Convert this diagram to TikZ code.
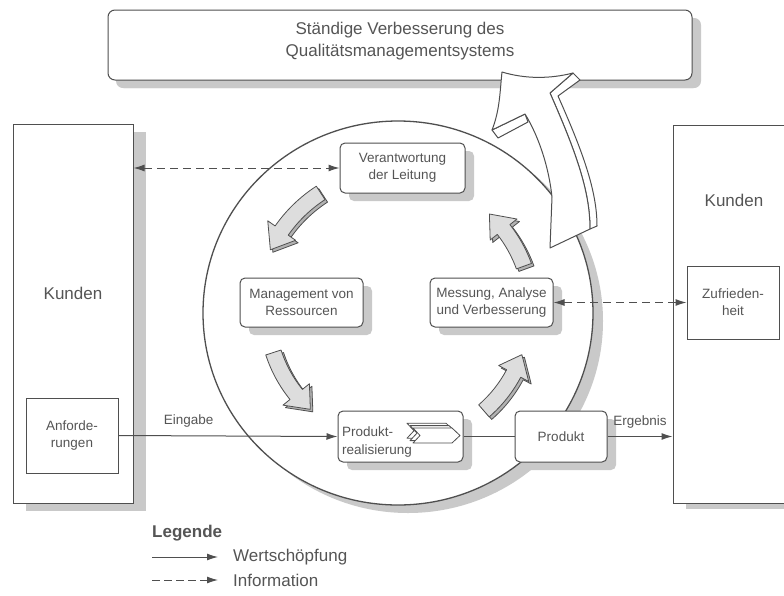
\documentclass[tikz,border=0pt]{standalone}
\usepackage{fontspec}
\setmainfont{Liberation Sans}
\usetikzlibrary{arrows.meta,shadows}
\definecolor{ln}{HTML}{4F4F4F}
\definecolor{tx}{HTML}{555555}
\definecolor{sh}{HTML}{C9C9C9}
\definecolor{ag}{HTML}{DDDDDD}
\newcommand\blkarr[3]{%
  \pgfmathsetmacro\ra{#3+8}\pgfmathsetmacro\rb{#3-8}%
  \pgfmathsetmacro\rc{#3+17}\pgfmathsetmacro\rd{#3-17}%
  \pgfmathsetmacro\ah{#2+9}%
  \foreach \sx/\col in {2.5/gray!60, 0/ag}{%
  \filldraw[ln, fill=\col, line width=0.8pt, line join=round, shift={(\sx,\sx)}]
    ([shift={(398,312)}]#1:\ra) arc[start angle=#1, end angle=\ah, radius=\ra]
    -- ([shift={(398,312)}]\ah:\rc) -- ([shift={(398,312)}]#2:#3)
    -- ([shift={(398,312)}]\ah:\rd) -- ([shift={(398,312)}]\ah:\rb)
    arc[start angle=\ah, end angle=#1, radius=\rb] -- cycle;}%
}
\begin{document}
\begin{tikzpicture}[x=1pt,y=-1pt,
  shd/.style 2 args={drop shadow={shadow xshift=#1pt, shadow yshift=-#2pt, fill=sh, draw=none, opacity=1}},
  box/.style={draw=ln, line width=1pt, fill=white, rounded corners=5pt, align=center, text=tx,
    font=\fontsize{13.5}{17}\selectfont, inner sep=0pt, shd={9}{8}},
  plain/.style={draw=ln, line width=1pt, fill=white, inner sep=0pt},
  lbl/.style={text=tx, inner sep=0pt, align=center, font=\fontsize{13.5}{17}\selectfont},
  big/.style={text=tx, inner sep=0pt, font=\fontsize{17}{21}\selectfont},
  arr/.style={draw=ln, line width=1pt, -{Latex[length=11pt,width=7pt]}},
  darr/.style={draw=ln, line width=1pt, dash pattern=on 8pt off 5pt, {Latex[length=11pt,width=7pt]}-{Latex[length=11pt,width=7pt]}},
  larr/.style={draw=ln, line width=1pt, -{Latex[length=11pt,width=7pt]}}
]
\useasboundingbox (0,0) rectangle (784,595);
\clip (0,0) rectangle (784,595);
\fill[white] (0,0) rectangle (784,595);

% top box
\node[box, rounded corners=7pt, minimum width=584pt, minimum height=70pt, shd={8}{8}] (top) at (400,45) {};
\node[big, align=center, font=\fontsize{17}{22}\selectfont] (topt) at (400,41) {Ständige Verbesserung des\\Qualitätsmanagementsystems};

% circle
\fill[sh] (408,321) ellipse [x radius=195, y radius=192];
\fill[white] (398,313) ellipse [x radius=195, y radius=192];
\draw[ln, line width=1.3pt] (398,313) ellipse [x radius=195, y radius=192];

% customers
\node[plain, minimum width=120pt, minimum height=379pt, shd={13}{8}] (kl) at (73,313.5) {};
\node[big] (klt) at (73,293) {Kunden};
\node[plain, minimum width=122pt, minimum height=378pt, shd={13}{6}] (kr) at (734,314) {};
\node[big] (krt) at (734,200) {Kunden};
\node[plain, minimum width=92pt, minimum height=75pt] (anf) at (72,435.5) {};
\node[lbl] (anft) at (72,435.5) {Anforde-\\rungen};
\node[plain, minimum width=92pt, minimum height=73pt] (zuf) at (733,302.5) {};
\node[lbl] (zuft) at (733,302.5) {Zufrieden-\\heit};

% process boxes
\node[box, minimum width=125pt, minimum height=50pt] (ver) at (402.5,168) {Verantwortung\\der Leitung};
\node[box, minimum width=123pt, minimum height=49pt] (man) at (301.5,302.5) {Management von\\Ressourcen};
\node[box, minimum width=123pt, minimum height=49pt] (mes) at (491.5,302.5) {Messung, Analyse\\und Verbesserung};
\node[box, minimum width=125pt, minimum height=51pt] (prod) at (400.5,436.5) {};
\node[lbl, anchor=west, align=left, font=\fontsize{13.5}{18.5}\selectfont] (prodt) at (342,442) {Produkt-\\realisierung};
\foreach \dx in {-6,-3,0}{
  \filldraw[ln, fill=white, line width=0.8pt, line join=round, shift={(\dx,0.8*\dx)}]
    (413,428) -- (452,428) -- (460,435.5) -- (452,443) -- (413,443) -- (420,435.5) -- cycle;}
\node[box, minimum width=92pt, minimum height=51pt] (pr) at (561,436.5) {Produkt};

% gray cycle arrows
\blkarr{237}{206}{142}
\blkarr{162}{132}{131}
\blkarr{49}{19}{131}
\blkarr{340}{313}{134}

% big white arrow
\filldraw[ln, fill=white, line width=1pt, line join=round]
  (573,73) -- (580,80) -- (558,96) .. controls (582,150) and (597,190) .. (597,226)
  -- (590,229) .. controls (590,190) and (575,150) .. (550,93) -- cycle;
\filldraw[ln, fill=white, line width=1pt, line join=round]
  (492,130) -- (498,138) -- (528,122) -- (525,114) -- cycle;
\filldraw[ln, fill=white, line width=1pt, line join=round]
  (502,72) .. controls (525,79) and (550,79) .. (573,73)
  -- (550,93)
  .. controls (575,150) and (590,190) .. (590,229)
  -- (550,248) -- (552,197)
  .. controls (548,160) and (535,130) .. (525,114)
  -- (492,130) .. controls (500,110) and (500,90) .. (502,72) -- cycle;

% connectors
\draw[arr] (anf.east) -- (prod.west) node[lbl, pos=0.32, above=8pt] (ein) {Eingabe};
\draw[ln, line width=1pt] (prod.east) -- (pr.west);
\draw[arr] (pr.east) -- (pr.east -| kr.west) node[lbl, midway, above=8pt] (erg) {Ergebnis};
\draw[darr] (kl.east |- ver.west) -- (ver.west);
\draw[darr] (mes.east) -- (zuf.west);

% legend
\node[text=tx, inner sep=0pt, anchor=west, font=\bfseries\fontsize{17}{20}\selectfont] (leg) at (152,533) {Legende};
\coordinate (l1a) at (152,557); \coordinate (l1b) at (218,557);
\coordinate (l2a) at (152,580); \coordinate (l2b) at (218,580);
\draw[larr] (l1a) -- (l1b);
\draw[larr, dash pattern=on 8pt off 4pt] (l2a) -- (l2b);
\node[big, anchor=west] (l1t) at (233,557) {Wertschöpfung};
\node[big, anchor=west] (l2t) at (233,580) {Information};
\end{tikzpicture}
\end{document}
